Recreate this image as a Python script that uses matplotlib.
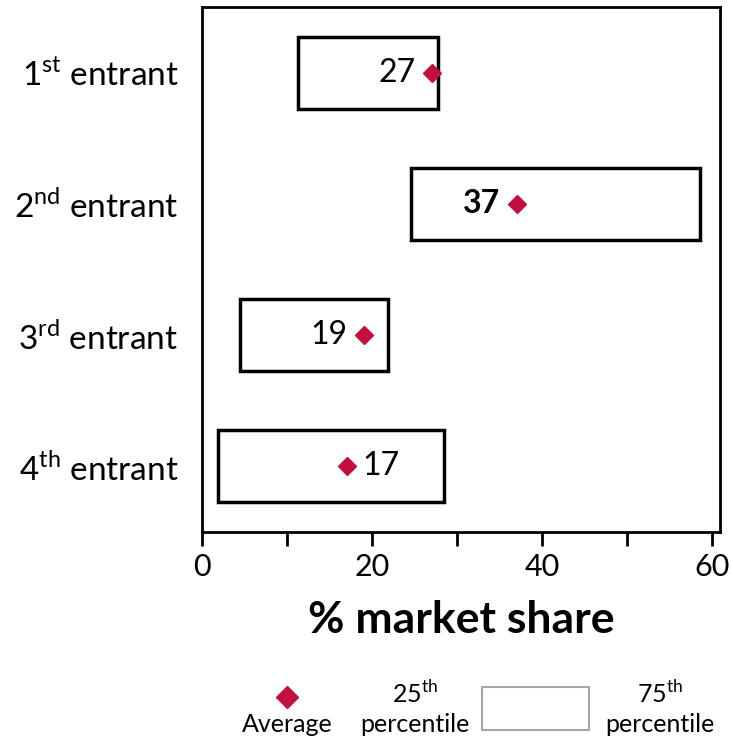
import matplotlib
matplotlib.use("Agg")
import matplotlib.pyplot as plt
from matplotlib.patches import Rectangle

plt.rcParams['font.family'] = ['Lato', 'DejaVu Sans']
plt.rcParams['mathtext.fontset'] = 'custom'
plt.rcParams['mathtext.rm'] = 'Lato'

categories = ["1$^\\mathregular{st}$ entrant", "2$^\\mathregular{nd}$ entrant",
              "3$^\\mathregular{rd}$ entrant", "4$^\\mathregular{th}$ entrant"]
p25 = [11.3, 24.6, 4.5, 1.9]
p75 = [27.8, 58.5, 21.9, 28.4]
average = [27, 37, 19, 17]
label_side = ["left", "left", "left", "right"]
label_bold = [False, True, False, False]

red = "#C0103F"

fig = plt.figure(figsize=(7.33, 7.40), dpi=100)
ax = fig.add_axes([202 / 733, 1 - 532 / 740, (720 - 202) / 733, (532 - 7) / 740])

box_h = 0.55
for i, (lo, hi, avg) in enumerate(zip(p25, p75, average)):
    y = i + 0.5
    ax.add_patch(Rectangle((lo, y - box_h / 2), hi - lo, box_h,
                           facecolor="white", edgecolor="black", lw=2.5, zorder=2))
    ax.plot(avg, y, marker="D", color=red, markersize=9, zorder=3, ls="none")
    weight = "bold" if label_bold[i] else "normal"
    if label_side[i] == "left":
        ax.text(avg - 1.9, y, f"{avg}", ha="right", va="center", fontsize=23,
                fontweight=weight, zorder=4)
    else:
        ax.text(avg + 1.9, y, f"{avg}", ha="left", va="center", fontsize=23,
                fontweight=weight, zorder=4)

ax.set_xlim(0, 60.9)
ax.set_ylim(4, 0)
ax.set_yticks([i + 0.5 for i in range(len(categories))])
ax.set_yticklabels(categories, fontsize=24)
ax.tick_params(axis="y", length=0, pad=17)
ax.set_xticks([0, 10, 20, 30, 40, 50, 60])
ax.set_xticklabels(["0", "", "20", "", "40", "", "60"], fontsize=22)
ax.tick_params(axis="x", length=10, width=2, direction="out", pad=5)
for s in ax.spines.values():
    s.set_linewidth(2)
ax.set_xlabel("% market share", fontsize=32, fontweight="bold", labelpad=14)

# legend drawn in figure coordinates
def fx(px):
    return px / 733

def fy(py):
    return 1 - py / 740

fig.lines.append(plt.Line2D([fx(287)], [fy(697)], marker="D", color=red,
                            markersize=11, ls="none", transform=fig.transFigure))
fig.text(fx(287), fy(725), "Average", ha="center", va="center", fontsize=18)
fig.text(fx(415), fy(693), "25$^\\mathregular{th}$", ha="center", va="center", fontsize=18)
fig.text(fx(415), fy(725), "percentile", ha="center", va="center", fontsize=18)
fig.patches.append(Rectangle((fx(482), fy(730)), fx(589) - fx(482), fy(687) - fy(730),
                             facecolor="white", edgecolor="#A6A6A6", lw=1.5,
                             transform=fig.transFigure))
fig.text(fx(660), fy(693), "75$^\\mathregular{th}$", ha="center", va="center", fontsize=18)
fig.text(fx(660), fy(725), "percentile", ha="center", va="center", fontsize=18)

fig.savefig("out.png", dpi=100)
